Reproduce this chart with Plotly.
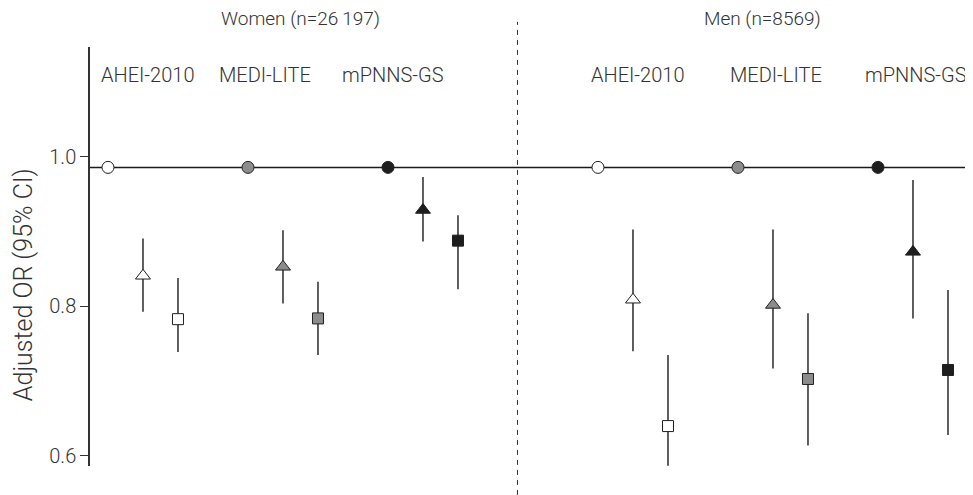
import plotly.graph_objects as go

# ---- data (odds ratios) ----
sexes = ["Women (n=26\u2009197)", "Men (n=8569)"]
scores = ["AHEI-2010", "MEDI-LITE", "mPNNS-GS"]
y_title = "Adjusted OR (95% CI)"
ref_or = [0.986, 0.986, 0.986]  # lowest category (reference)

women_mid_or = [0.841, 0.853, 0.929]
women_mid_lo = [0.793, 0.804, 0.887]
women_mid_hi = [0.891, 0.902, 0.973]
women_high_or = [0.783, 0.784, 0.888]
women_high_lo = [0.739, 0.735, 0.823]
women_high_hi = [0.838, 0.833, 0.922]

men_mid_or = [0.809, 0.802, 0.873]
men_mid_lo = [0.740, 0.717, 0.784]
men_mid_hi = [0.903, 0.903, 0.969]
men_high_or = [0.640, 0.703, 0.715]
men_high_lo = [0.587, 0.614, 0.628]
men_high_hi = [0.735, 0.791, 0.822]

y_ticks = [0.6, 0.8, 1.0]
y_tick_labels = ["0.6", "0.8", "1.0"]

# ---- styling ----
score_colors = ["#ffffff", "#8c8c8c", "#1e1e1e"]
edge = "#231f20"
font_family = "Roboto, 'Open Sans', sans-serif"
text_color = "#333333"

group_base = {0: [0, 4, 8], 1: [14, 18, 22]}      # x slot of each score block
label_x = {0: [1.14, 4.49, 8.14], 1: [15.14, 19.09, 23.09]}
title_x = [5.5, 18.7]
x_left, x_right = -0.514, 24.486

fig = go.Figure()

# reference line
fig.add_trace(go.Scatter(x=[x_left, x_right], y=[ref_or[0], ref_or[0]], mode="lines",
                         line=dict(color="#1a1a1a", width=1.5),
                         hoverinfo="skip", showlegend=False))

series = {
    0: (women_mid_or, women_mid_lo, women_mid_hi, women_high_or, women_high_lo, women_high_hi),
    1: (men_mid_or, men_mid_lo, men_mid_hi, men_high_or, men_high_lo, men_high_hi),
}

for s in (0, 1):
    mo, ml, mh, ho, hl, hh = series[s]
    base = group_base[s]
    fig.add_trace(go.Scatter(
        x=base, y=ref_or, mode="markers",
        marker=dict(symbol="circle", size=12, color=score_colors,
                    line=dict(color=edge, width=1)),
        showlegend=False))
    fig.add_trace(go.Scatter(
        x=[b + 1 for b in base], y=mo, mode="markers",
        error_y=dict(type="data", symmetric=False,
                     array=[h - o for h, o in zip(mh, mo)],
                     arrayminus=[o - l for o, l in zip(mo, ml)],
                     width=0, thickness=1.5, color="#2a2a2a"),
        marker=dict(symbol="triangle-up", size=13, color=score_colors,
                    line=dict(color=edge, width=1)),
        showlegend=False))
    fig.add_trace(go.Scatter(
        x=[b + 2 for b in base], y=ho, mode="markers",
        error_y=dict(type="data", symmetric=False,
                     array=[h - o for h, o in zip(hh, ho)],
                     arrayminus=[o - l for o, l in zip(ho, hl)],
                     width=0, thickness=1.5, color="#2a2a2a"),
        marker=dict(symbol="square", size=11, color=score_colors,
                    line=dict(color=edge, width=1)),
        showlegend=False))

annotations = []
for s in (0, 1):
    for i, name in enumerate(scores):
        annotations.append(dict(x=label_x[s][i], y=0.933, xref="x", yref="paper",
                                text=name, showarrow=False, yanchor="middle",
                                font=dict(size=20, color=text_color, family=font_family, weight=300)))
for s in (0, 1):
    annotations.append(dict(x=title_x[s], y=1.067, xref="x", yref="paper", text=sexes[s],
                            showarrow=False, yanchor="middle",
                            font=dict(size=19, color=text_color, family=font_family, weight=300)))
# y-axis title
annotations.append(dict(x=-0.0766, y=0.434, xref="paper", yref="paper", text=y_title,
                        textangle=-90, showarrow=False, xanchor="center", yanchor="middle",
                        font=dict(size=25, color=text_color, family=font_family, weight=300)))

# page body has an 8px default margin, so the figure is laid out 8px smaller
fig.update_layout(
    width=965, height=487,
    margin=dict(l=82, r=8, t=39, b=29),
    paper_bgcolor="white", plot_bgcolor="white",
    font=dict(family=font_family, color=text_color, size=19),
    xaxis=dict(range=[x_left, x_right], visible=False),
    yaxis=dict(range=[0.5866, 1.147],
               tickvals=y_ticks, ticktext=y_tick_labels,
               ticks="outside", ticklen=8, tickwidth=1.2, tickcolor="#333",
               showline=True, linecolor="#333", linewidth=1.5,
               showgrid=False, zeroline=False,
               tickfont=dict(size=20, color=text_color, weight=300)),
    shapes=[dict(type="line", xref="x", yref="paper", x0=11.7, x1=11.7,
                 y0=-0.069, y1=1.06, line=dict(color="#333", width=1, dash="5px,5px"))],
    annotations=annotations,
)

fig.write_html("out.html")
